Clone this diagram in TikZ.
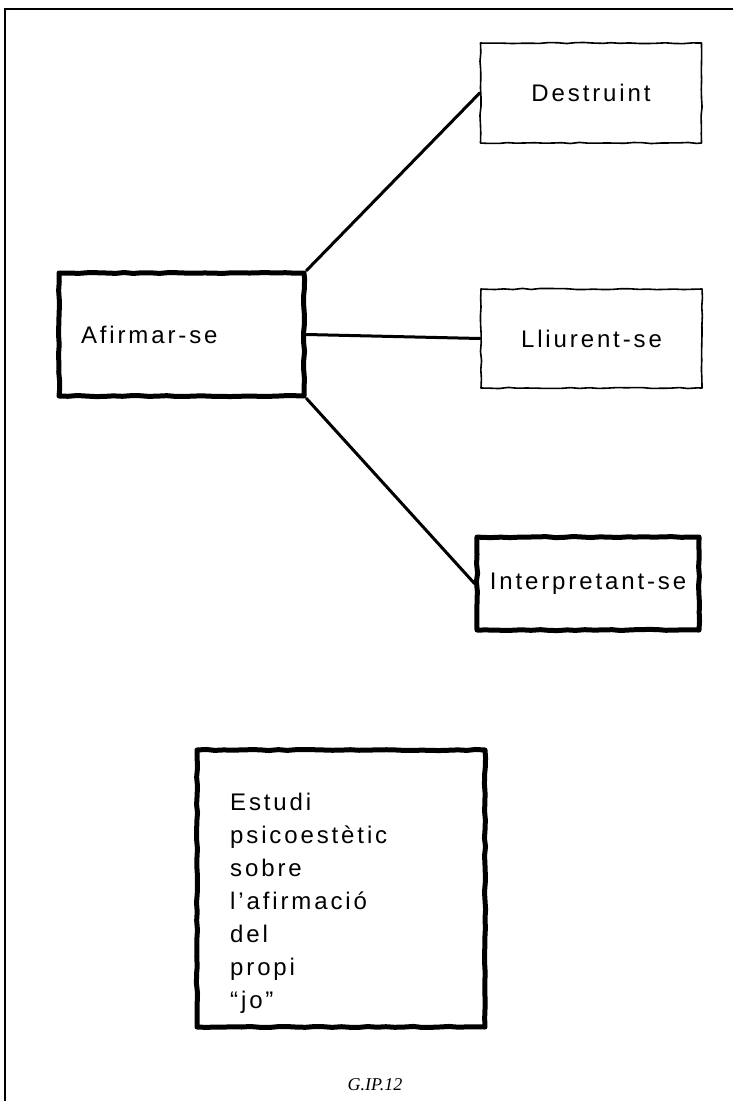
\documentclass[tikz,border=0pt]{standalone}
\usepackage{fontspec}
\setmainfont{Liberation Serif}
\newfontfamily\handfont[LetterSpace=12]{Liberation Sans}
\usetikzlibrary{positioning, decorations.pathmorphing}

\begin{document}
\begin{tikzpicture}[
    x=1pt, y=-1pt,
    rough/.style={decorate, decoration={random steps, segment length=9pt, amplitude=0.6pt}, line join=round},
    thinbox/.style={rectangle, draw=black, line width=1.6pt, rough, minimum width=221pt, minimum height=100pt, inner sep=0pt, font=\handfont\fontsize{24}{28}\selectfont},
    thickbox/.style={thinbox, line width=5pt},
    link/.style={line width=3pt, line cap=round}
]
\useasboundingbox (0,0) rectangle (733,1101);
\clip (0,0) rectangle (733,1101);

% Frame
\draw[line width=1.4pt] (5,9) rectangle (760,1130);

% Nodes
\node (afirmar) [thickbox, minimum width=245pt, minimum height=123pt, text width=201pt, inner xsep=22pt, align=left] at (181.5,334.5) {Afirmar-se};
\node (destruint) [thinbox] at (591,93) {Destruint};
\node (lliurent) [thinbox, minimum height=99pt] at (591.5,338.5) {Lliurent-se};
\node (interpretant) [thickbox, minimum width=222pt, minimum height=93pt] at (588,583.5) {Interpretant-se};

\node (estudi) [thickbox, minimum width=288pt, minimum height=277pt] at (341,888.5) {};
\node (estuditext) [anchor=north west, inner sep=0pt, align=left, font=\handfont\fontsize{24}{33}\selectfont] at (230,793) {Estudi\\psicoestètic\\sobre\\l’afirmació\\del\\propi\\“jo”};

\node (sigla) [font=\itshape\fontsize{18}{20}\selectfont, anchor=base] at (375,1090) {G.IP.12};

% Links
\draw [link] (afirmar.north east) -- (destruint.west);
\draw [link] (afirmar.east) -- (lliurent.west);
\draw [link] (afirmar.south east) -- (interpretant.west);

\end{tikzpicture}
\end{document}
